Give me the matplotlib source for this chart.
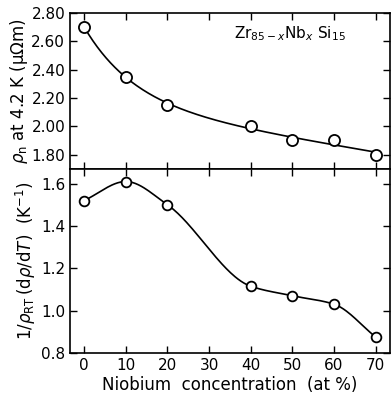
import matplotlib
matplotlib.use("Agg")
import matplotlib.pyplot as plt
import numpy as np

# Nb content (at %) and measured values
nb_conc = [0, 10, 20, 40, 50, 60, 70]
rho_n = [2.70, 2.35, 2.15, 2.00, 1.90, 1.90, 1.80]
tcr = [1.52, 1.61, 1.50, 1.115, 1.07, 1.03, 0.875]
x_ticks = [0, 10, 20, 30, 40, 50, 60, 70]


def pchip(x, y, n=200):
    """Monotone cubic (Fritsch-Carlson) guide curve through the points."""
    x = np.asarray(x, float)
    y = np.asarray(y, float)
    h = np.diff(x)
    d = np.diff(y) / h
    m = np.zeros_like(y)
    for k in range(1, len(x) - 1):
        if d[k - 1] * d[k] > 0:
            w1 = 2 * h[k] + h[k - 1]
            w2 = h[k] + 2 * h[k - 1]
            m[k] = (w1 + w2) / (w1 / d[k - 1] + w2 / d[k])
    m[0] = d[0]
    m[-1] = d[-1]
    xs = np.linspace(x[0], x[-1], n)
    idx = np.clip(np.searchsorted(x, xs) - 1, 0, len(h) - 1)
    t = (xs - x[idx]) / h[idx]
    h00 = 2 * t**3 - 3 * t**2 + 1
    h10 = t**3 - 2 * t**2 + t
    h01 = -2 * t**3 + 3 * t**2
    h11 = t**3 - t**2
    ys = (h00 * y[idx] + h10 * h[idx] * m[idx]
          + h01 * y[idx + 1] + h11 * h[idx] * m[idx + 1])
    return xs, ys


def decay_fit(x, y, n=200):
    """Least-squares guide curve a + b*x + c*exp(-x/12)."""
    x = np.asarray(x, float)
    A = np.column_stack([np.ones_like(x), x, np.exp(-x / 12)])
    coef = np.linalg.lstsq(A, np.asarray(y, float), rcond=None)[0]
    xs = np.linspace(x[0], x[-1], n)
    return xs, coef[0] + coef[1] * xs + coef[2] * np.exp(-xs / 12)


plt.rcParams["font.family"] = "DejaVu Sans"
plt.rcParams["mathtext.fontset"] = "dejavusans"

fig = plt.figure(figsize=(3.91, 4.01), dpi=100)
ax1 = fig.add_axes([0.179, 0.579, 0.818, 0.389])
ax2 = fig.add_axes([0.179, 0.120, 0.818, 0.459], sharex=ax1)

for ax, y, fit, ms in ((ax1, rho_n, decay_fit, 8), (ax2, tcr, pchip, 7)):
    cx, cy = fit(nb_conc, y)
    ax.plot(cx, cy, color="black", lw=1.2)
    ax.plot(nb_conc, y, "o", ms=ms, mfc="white", mec="black", mew=1.3)
    ax.tick_params(direction="in", top=True, right=True, length=5, width=1,
                   labelsize=11)
    for s in ax.spines.values():
        s.set_linewidth(1.2)

ax1.set_xlim(-3.4, 73.4)
ax1.set_xticks(x_ticks)
ax1.tick_params(labelbottom=False)
ax1.set_ylim(1.70, 2.80)
ax1.set_yticks([1.80, 2.00, 2.20, 2.40, 2.60, 2.80])
ax1.set_yticklabels(["1.80", "2.00", "2.20", "2.40", "2.60", "2.80"])
ax1.set_ylabel(r"$\rho_{\rm n}$ at 4.2 K (μΩm)", fontsize=12, labelpad=1)
ax1.text(36, 2.62, r"Zr$_{85-x}$Nb$_x$ Si$_{15}$", fontsize=11)

ax2.set_ylim(0.8, 1.67)
ax2.set_yticks([0.8, 1.0, 1.2, 1.4, 1.6])
ax2.set_ylabel(r"$1/\rho_{\rm RT}\,(\mathrm{d}\rho/\mathrm{d}T)$  (K$^{-1}$)",
               fontsize=12, labelpad=2)
ax2.set_xlabel("Niobium  concentration  (at %)", fontsize=12, labelpad=2)

fig.savefig("out.png", dpi=100)
